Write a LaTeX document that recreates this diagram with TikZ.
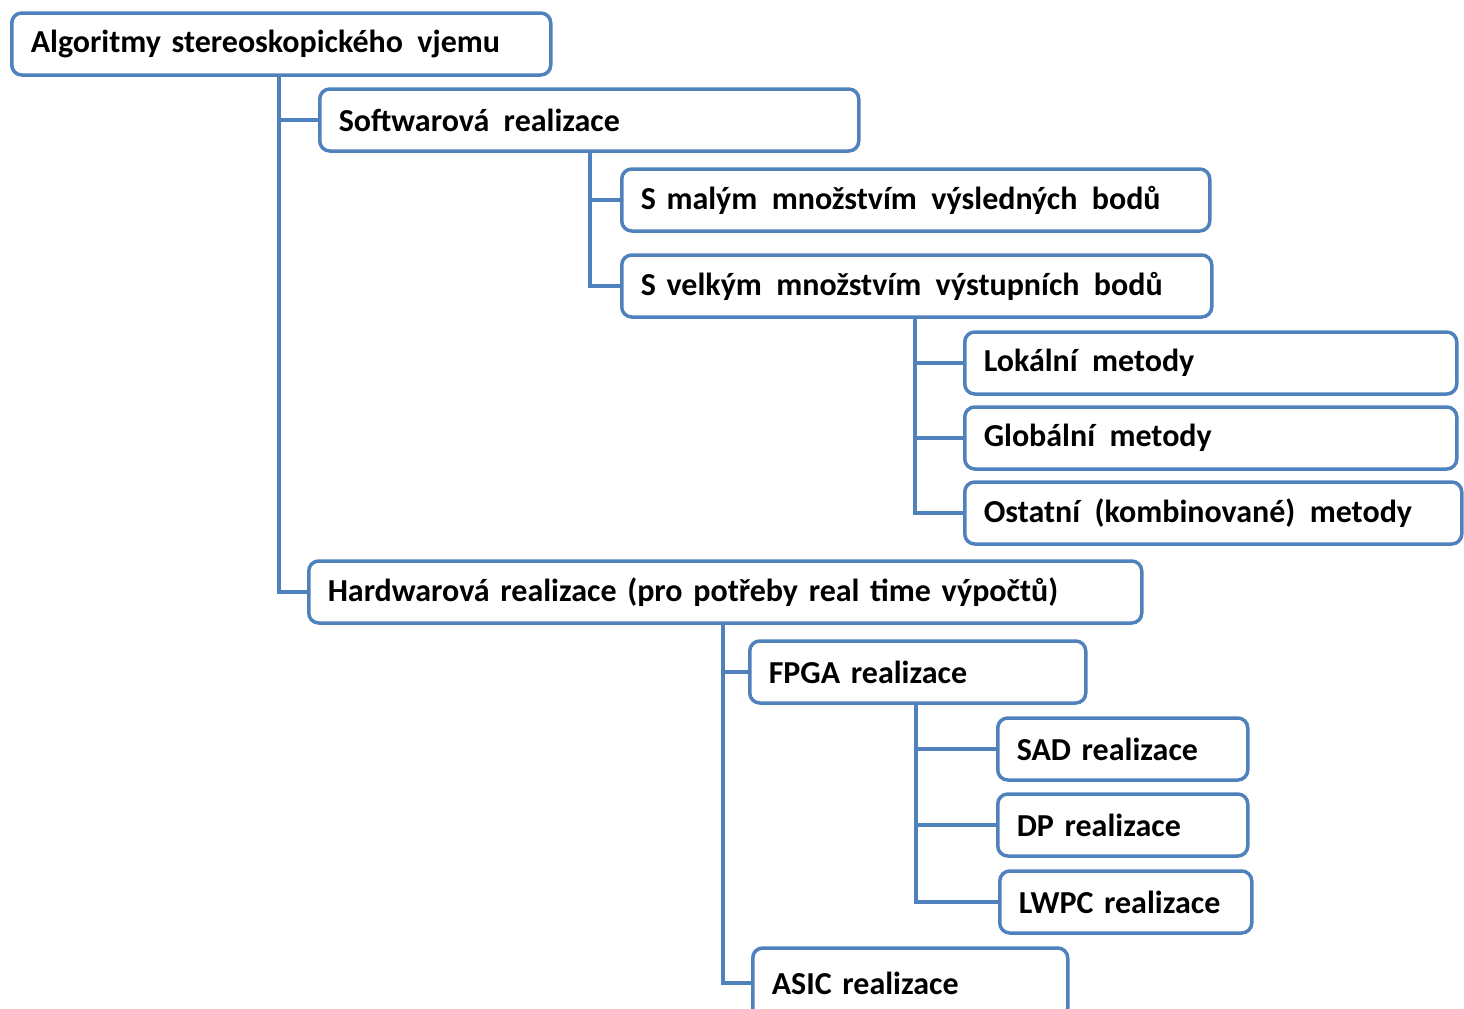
\documentclass[tikz,border=0pt]{standalone}
\usepackage{fontspec}
\setmainfont{Carlito}
\definecolor{boxblue}{HTML}{4F81BD}
\newcommand{\wsp}{\hspace{0.45em}}
\begin{document}
\begin{tikzpicture}[x=1pt,y=-1pt,
  box/.style={draw=boxblue, line width=3.5pt, rounded corners=10pt, fill=white,
    anchor=west, inner xsep=19pt, inner ysep=0pt, minimum height=62pt,
    align=left, font=\fontsize{32}{38}\selectfont\bfseries},
  conn/.style={draw=boxblue, line width=4pt},
  shad/.style={draw=black!35, line width=4pt, opacity=0.35}]
\useasboundingbox (0,0) rectangle (1464,1009);
\clip (0,0) rectangle (1464,1009);
\node[box, text width=501pt] (root) at (10,44) {Algoritmy stereoskopického\wsp vjemu};
\node[box, text width=501pt] (sw) at (318,120) {Softwarová\wsp realizace};
\node[box, text width=550pt] (small) at (620,200) {S malým\wsp množstvím\wsp výsledných\wsp bodů};
\node[box, text width=552pt] (big) at (620,286) {S velkým\wsp množstvím\wsp výstupních\wsp bodů};
\node[box, text width=454pt] (loc) at (963,363) {Lokální\wsp metody};
\node[box, text width=454pt] (glob) at (963,438) {Globální\wsp metody};
\node[box, text width=459pt] (oth) at (963,513) {Ostatní\wsp (kombinované)\wsp metody};
\node[box, text width=795pt] (hw) at (307,592) {Hardwarová realizace (pro potřeby real time výpočtů)};
\node[box, text width=298pt] (fpga) at (748,672) {FPGA realizace};
\node[box, text width=212pt] (sad) at (996,749) {SAD realizace};
\node[box, text width=212pt] (dp) at (996,825) {DP realizace};
\node[box, text width=214pt] (lwpc) at (998,902) {LWPC realizace};
\node[box, text width=277pt, minimum height=70pt] (asic) at (751,983) {ASIC realizace\\[-10pt]};
% soft shadows of the connectors
\begin{scope}[xshift=2pt,yshift=-2pt]
\draw[shad] (root.south west) ++(269,0) |- (hw.west);
\draw[shad] (sw.south west) ++(272,0) |- (big.west);
\draw[shad] (big.south west) ++(295,0) |- (oth.west);
\draw[shad] (hw.south west) ++(416,0) |- (asic.west);
\draw[shad] (fpga.south west) ++(168,0) |- (lwpc.west);
\end{scope}
\draw[conn] (root.south west) ++(269,0) |- (sw.west);
\draw[conn] (root.south west) ++(269,0) |- (hw.west);
\draw[conn] (sw.south west) ++(272,0) |- (small.west);
\draw[conn] (sw.south west) ++(272,0) |- (big.west);
\draw[conn] (big.south west) ++(295,0) |- (loc.west);
\draw[conn] (big.south west) ++(295,0) |- (glob.west);
\draw[conn] (big.south west) ++(295,0) |- (oth.west);
\draw[conn] (hw.south west) ++(416,0) |- (fpga.west);
\draw[conn] (hw.south west) ++(416,0) |- (asic.west);
\draw[conn] (fpga.south west) ++(168,0) |- (sad.west);
\draw[conn] (fpga.south west) ++(168,0) |- (dp.west);
\draw[conn] (fpga.south west) ++(168,0) |- (lwpc.west);
\end{tikzpicture}
\end{document}
